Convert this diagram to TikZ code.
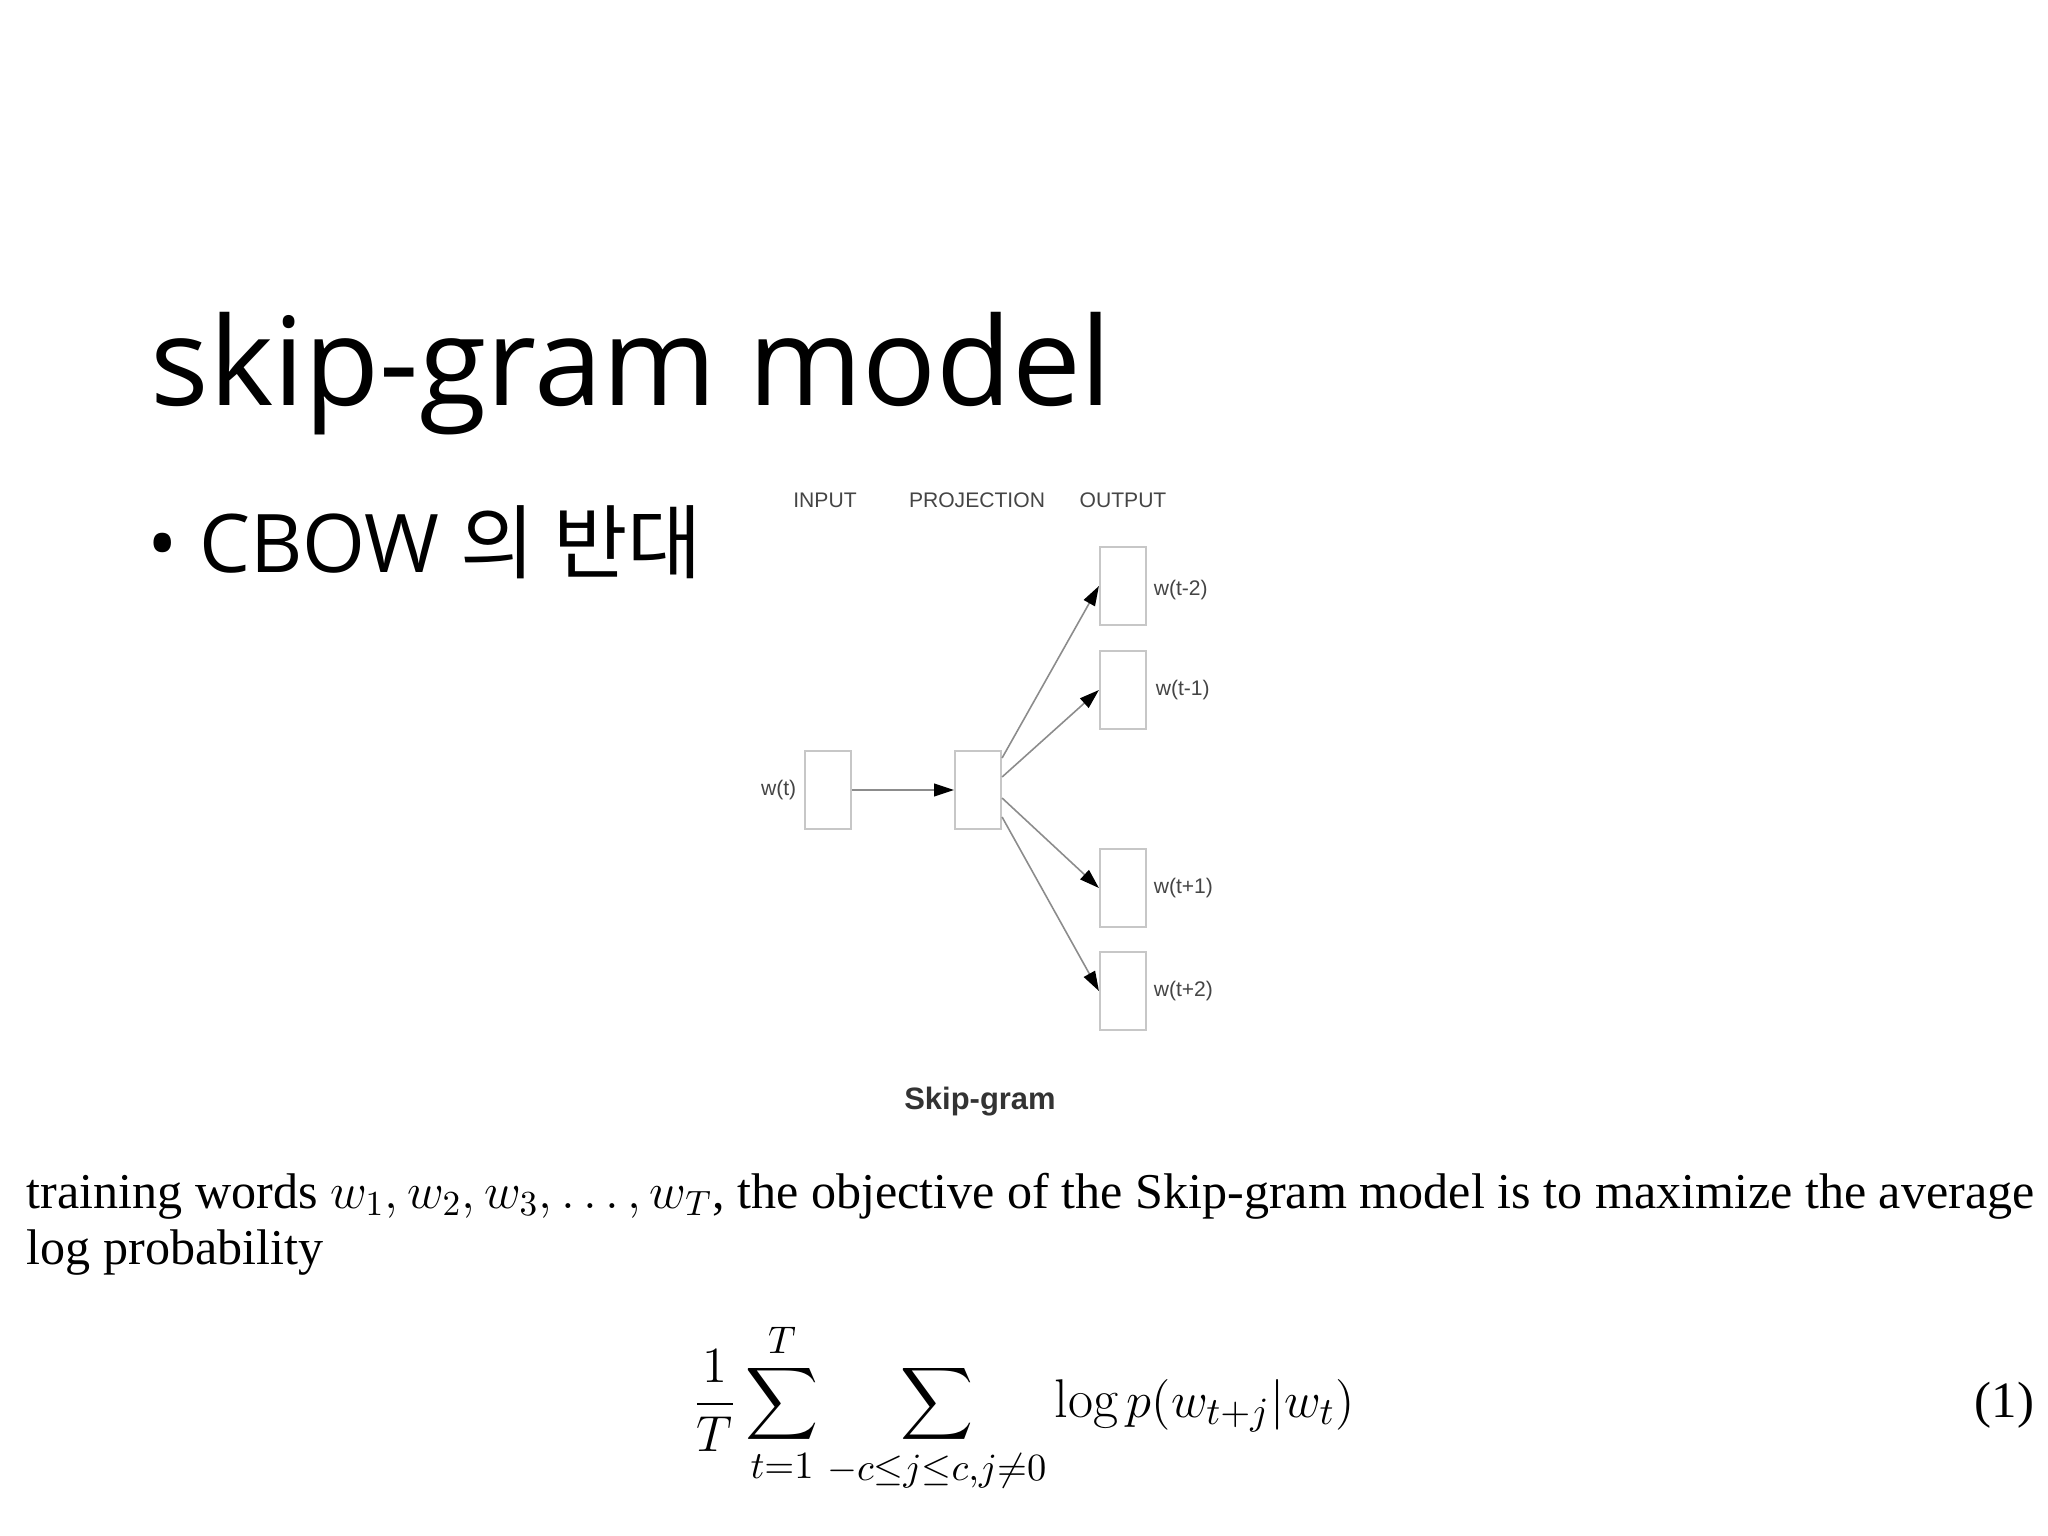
\documentclass[tikz,border=0pt]{standalone}
\usepackage{amsmath}
\usepackage{fontspec}
\newfontfamily\slidefont{Open Sans}
\newfontfamily\cjk{Noto Sans CJK KR}
\newfontfamily\diagfont{Liberation Sans}
\newfontfamily\paperfont{Liberation Serif}
\usepackage{tikz}
\usetikzlibrary{arrows.meta,calc,positioning}
\definecolor{boxgray}{gray}{0.78}
\definecolor{linegray}{gray}{0.55}
\definecolor{labgray}{gray}{0.27}
\tikzset{
  wordbox/.style={draw=boxgray,line width=0.6pt,minimum width=0.46cm,minimum height=0.78cm,inner sep=0pt},
  layerlab/.style={font=\diagfont\fontsize{6}{7}\selectfont,text=labgray,inner sep=0pt},
  wordlab/.style={font=\diagfont\fontsize{6}{7}\selectfont,text=labgray,inner sep=0pt},
  flow/.style={draw=linegray,line width=0.45pt,-{Triangle[length=5.6pt,width=3.6pt,black]}},
  papertext/.style={font=\paperfont\fontsize{14.25}{16}\selectfont,inner sep=0pt,anchor=base west}
}
\begin{document}
\begin{tikzpicture}[x=0.01cm,y=-0.01cm]
    \fill[white] (0,0) rectangle (2048,1536);
    \useasboundingbox (0,0) rectangle (2048,1536);
    % slide title and bullet
    \node[anchor=base west,inner sep=0pt,font=\slidefont\fontsize{34.9}{40}\selectfont] (title) at (150,405) {skip-gram model};
    \node[anchor=base west,inner sep=0pt,font=\slidefont\fontsize{23}{28}\selectfont] (bullet) at (147,572) {\textbullet\ CBOW {\cjk 의 반대}};
    % skip-gram network
    \node[layerlab] (hin) at (825,500) {INPUT};
    \node[layerlab] (hproj) at (977,500) {PROJECTION};
    \node[layerlab] (hout) at (1123,500) {OUTPUT};
    \node[wordbox] (inp) at (828,790) {};
    \node[wordbox] (proj) at (978,790) {};
    \node[wordbox] (o1) at (1123,586) {};
    \node[wordbox] (o2) at (1123,690) {};
    \node[wordbox] (o3) at (1123,888) {};
    \node[wordbox] (o4) at (1123,991) {};
    \node[wordlab,left=0.07cm of inp] (lin) {w(t)};
    \node[wordlab,right=0.06cm of o1,yshift=-0.04cm] (l1) {w(t-2)};
    \node[wordlab,right=0.08cm of o2] (l2) {w(t-1)};
    \node[wordlab,right=0.06cm of o3] (l3) {w(t+1)};
    \node[wordlab,right=0.06cm of o4] (l4) {w(t+2)};
    \draw[flow] (inp) -- (proj);
    \foreach \o/\dy in {o1/-32,o2/-13,o3/8,o4/27}
    {
      \draw[flow] ($(proj.east)+(0,\dy)$) -- (\o.west);
    }
    \node[font=\diagfont\bfseries\fontsize{8.8}{10}\selectfont,text=black!80,inner sep=0pt] (cap) at (980,1102) {Skip-gram};
    % excerpt from the paper
    \node[papertext] (line1) at (26,1208) {training words $w_1, w_2, w_3, \ldots, w_T$, the objective of the Skip-gram model is to maximize the average};
    \node[papertext] (line2) at (26,1264) {log probability};
    \node[anchor=base west,inner sep=0pt,font=\fontsize{15.5}{17}\selectfont] (eq) at (692,1417)
      {$\displaystyle \frac{1}{T}\sum_{t=1}^{T}\sum_{-c\leq j\leq c,j\neq 0}\log p(w_{t+j}|w_t)$};
    \node[anchor=base east,inner sep=0pt,font=\paperfont\fontsize{14.5}{16}\selectfont] (eqno) at (2035,1417) {(1)};
\end{tikzpicture}
\end{document}
